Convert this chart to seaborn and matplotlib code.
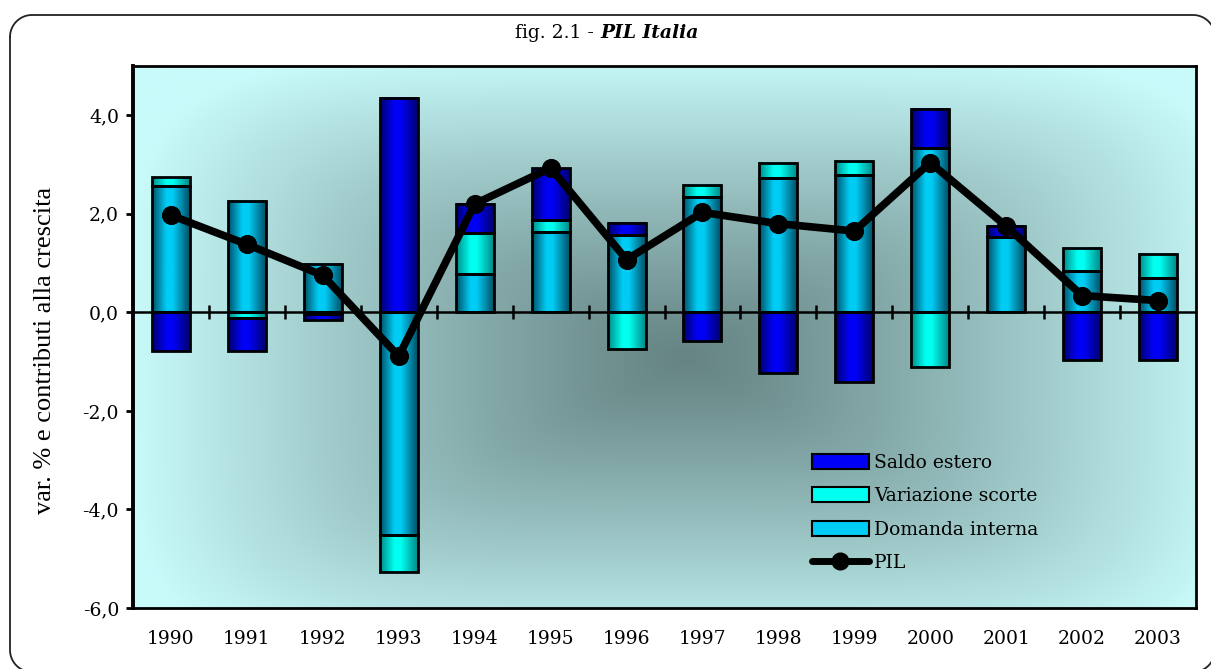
# fig. 2.1 - PIL Italia: contributi alla crescita (barre impilate) + PIL (linea)

import numpy as np
import pandas as pd
import matplotlib
matplotlib.use('Agg')
import matplotlib.pyplot as plt
import seaborn as sns
from matplotlib.colors import LinearSegmentedColormap, to_rgb
from matplotlib.patches import Patch
from matplotlib.lines import Line2D
from matplotlib.transforms import IdentityTransform

# dati
anni = ['1990', '1991', '1992', '1993', '1994', '1995', '1996',
        '1997', '1998', '1999', '2000', '2001', '2002', '2003']
domanda_interna = [2.56, 2.26, 0.99, -4.52, 0.77, 1.64, 1.56,
                   2.34, 2.72, 2.78, 3.33, 1.52, 0.84, 0.70]
variazione_scorte = [0.18, -0.12, -0.04, -0.75, 0.84, 0.24, -0.74,
                     0.25, 0.32, 0.30, -1.11, 0.0, 0.47, 0.49]
saldo_estero = [-0.79, -0.67, -0.11, 4.36, 0.59, 1.05, 0.25,
                -0.58, -1.24, -1.42, 0.80, 0.24, -0.97, -0.96]
pil = [1.97, 1.38, 0.75, -0.89, 2.20, 2.93, 1.07,
       2.03, 1.80, 1.65, 3.04, 1.75, 0.34, 0.24]

serie = ['Domanda interna', 'Variazione scorte', 'Saldo estero']
df = pd.DataFrame({'anno': anni,
                   'Domanda interna': domanda_interna,
                   'Variazione scorte': variazione_scorte,
                   'Saldo estero': saldo_estero,
                   'PIL': pil})

# colori (bordo scuro -> centro chiaro) per l'effetto cilindro
colori = {'Domanda interna': ('#004e66', '#00ccf4'),
          'Variazione scorte': ('#008888', '#00fff0'),
          'Saldo estero': ('#00006e', '#0000f5')}

sns.set_style('white')
plt.rcParams['font.family'] = ['DejaVu Serif']
plt.rcParams['text.color'] = 'black'
plt.rcParams['axes.labelcolor'] = 'black'
plt.rcParams['xtick.color'] = 'black'
plt.rcParams['ytick.color'] = 'black'

fig = plt.figure(figsize=(12.11, 6.69), dpi=100)
ax = fig.add_axes([133 / 1211, 1 - 608 / 669, 1063 / 1211, 542 / 669])

# sfondo sfumato dal centro
light = np.array(to_rgb('#c8fafa'))
dark = np.array(to_rgb('#668484'))
u, v = np.meshgrid(np.linspace(0, 1, 400), np.linspace(0, 1, 400))
du = np.abs(u - 0.52) / 0.52
dv = np.abs(v - 0.46) / 0.56
t = np.clip((du ** 5 + dv ** 5) ** 0.2, 0, 1)
bg = dark + (light - dark) * t[..., None] ** 1.15
ax.imshow(bg, extent=(0, 1, 0, 1), transform=ax.transAxes,
          aspect='auto', origin='lower', zorder=0, interpolation='bilinear')

# barre impilate (positivi sopra, negativi sotto)
x = np.arange(len(anni))
largh = 0.5
pos = np.zeros(len(anni))
neg = np.zeros(len(anni))
grad = np.linspace(0, 1, 256)[None, :]
for s in serie:
    vals = df[s].to_numpy()
    bottom = np.where(vals >= 0, pos, neg)
    bars = ax.bar(x, vals, largh, bottom=bottom, facecolor='none',
                  edgecolor='black', linewidth=2, zorder=3)
    edge, mid = colori[s]
    cmap = LinearSegmentedColormap.from_list(
        s, [(0, edge), (0.38, mid), (0.55, mid), (1, edge)])
    for b, val, bot in zip(bars, vals, bottom):
        if val == 0:
            continue
        y0, y1 = sorted([bot, bot + val])
        ax.imshow(grad, cmap=cmap, extent=(b.get_x(), b.get_x() + largh, y0, y1),
                  aspect='auto', zorder=2, interpolation='bilinear')
    pos = pos + np.where(vals >= 0, vals, 0)
    neg = neg + np.where(vals < 0, vals, 0)

# linea dello zero con tacche tra le categorie
ax.axhline(0, color='black', lw=1.8, zorder=2.5)
ax.vlines(x[:-1] + 0.5, -0.14, 0.14, color='black', lw=1.8, zorder=2.5)

# PIL
sns.lineplot(x=x, y=df['PIL'], ax=ax, color='black', lw=5.5, marker='o',
             markersize=13, markeredgecolor='black', zorder=5)

ax.set_xlim(-0.5, len(anni) - 0.5)
ax.set_ylim(-6, 5)
ax.set_yticks([-6, -4, -2, 0, 2, 4])
ax.set_yticklabels([f'{v:.1f}'.replace('.', ',') for v in [-6, -4, -2, 0, 2, 4]])
ax.set_xticks(x)
ax.set_xticklabels(anni)
ax.tick_params(axis='y', left=True, length=5, width=2, direction='out',
               labelsize=13.5, pad=5)
ax.tick_params(axis='x', bottom=False, length=0, labelsize=13.5, pad=16)
ax.set_xlabel('')
ax.set_ylabel('var. % e contributi alla crescita', family='Liberation Serif',
              fontsize=19, va='center')
ax.yaxis.set_label_coords(-0.083, 0.476)
for sp in ax.spines.values():
    sp.set_visible(True)
    sp.set_color('black')
    sp.set_linewidth(2)
ax.spines['left'].set_linewidth(2.8)

# legenda
handles = [Patch(facecolor=colori['Saldo estero'][1], edgecolor='black', lw=1.5),
           Patch(facecolor=colori['Variazione scorte'][1], edgecolor='black', lw=1.5),
           Patch(facecolor=colori['Domanda interna'][1], edgecolor='black', lw=1.5),
           Line2D([], [], color='black', lw=5, marker='o', markersize=12)]
ax.legend(handles, ['Saldo estero', 'Variazione scorte', 'Domanda interna', 'PIL'],
          loc='upper left', bbox_to_anchor=(0.632, 0.298), frameon=False,
          fontsize=13.5, handlelength=3.0, handleheight=0.85, handletextpad=0.3,
          labelspacing=0.82, borderaxespad=0)

# titolo
fig.text(594 / 1211, 1 - 33 / 669, 'fig. 2.1 -', ha='right', va='center', fontsize=13.5)
fig.text(600 / 1211, 1 - 33 / 669, 'PIL Italia', ha='left', va='center',
         fontsize=13.5, fontweight='bold', fontstyle='italic')

# cornice arrotondata (in pixel, origine in basso a sinistra)
x0, x1, y0, y1, r = 10, 1215, -3, 654, 22
pts = []
for cx, cy, a0 in [(x0 + r, y1 - r, 180), (x1 - r, y1 - r, 90),
                   (x1 - r, y0 + r, 0), (x0 + r, y0 + r, -90)]:
    a = np.radians(np.linspace(a0, a0 - 90, 20))
    pts += list(zip(cx + r * np.cos(a), cy + r * np.sin(a)))
pts.append(pts[0])
px, py = zip(*pts)
fig.add_artist(Line2D(px, py, transform=IdentityTransform(), color='#222222', lw=1.3))

fig.savefig('out.png', dpi=100)
